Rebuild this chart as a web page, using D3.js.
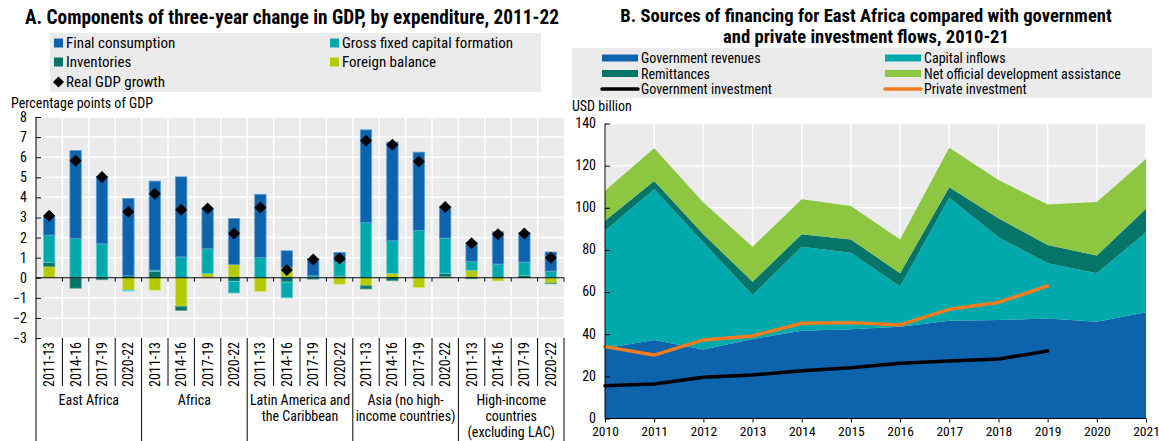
<!DOCTYPE html>
<html>
<head>
<meta charset="utf-8">
<script src="https://cdn.jsdelivr.net/npm/d3@7"></script>
<style>
  html, body { margin: 0; padding: 0; background: #fff; }
  svg { display: block; }
  text { font-family: "Liberation Sans Narrow", "Arial Narrow", "Roboto Condensed", sans-serif; fill: #000; }
</style>
</head>
<body>
<svg id="chart" width="1159" height="441"></svg>
<script>
// ---------- Panel A: components of three-year GDP change ----------
const groups = ["East Africa", "Africa", "Latin America and|the Caribbean",
                "Asia (no high-|income countries)", "High-income|countries|(excluding LAC)"];
const periods = ["2011-13", "2014-16", "2017-19", "2020-22"];

// one value per bar, in group order (4 periods per group)
const finalConsumption = [0.93, 4.38, 3.35, 3.85,  4.43, 3.98, 2.03, 2.29,  3.15, 0.84, 0.86, 0.50,  4.62, 4.91, 3.90, 1.58,  0.95, 1.61, 1.47, 0.95];
const grossFixedCapital = [1.36, 1.95, 1.66, -0.04, 0.06, 1.04, 1.24, -0.58, 1.00, -0.78, 0.10, 0.68, 2.74, 1.62, 2.35, 1.75, 0.45, 0.68, 0.66, 0.33];
const inventories       = [0.20, -0.52, -0.10, 0.10, 0.32, -0.20, 0.00, -0.18, 0.00, -0.22, -0.07, 0.08, -0.16, -0.15, 0.00, 0.17, -0.05, 0.00, 0.12, -0.03];
const foreignBalance    = [0.56, 0.00, 0.03, -0.62, -0.62, -1.43, 0.20, 0.66, -0.68, 0.50, 0.00, -0.32, -0.40, 0.22, -0.48, 0.05, 0.36, -0.16, 0.00, -0.27];
const realGdpGrowth     = [3.08, 5.82, 5.01, 3.28, 4.18, 3.38, 3.45, 2.20, 3.50, 0.38, 0.91, 0.96, 6.82, 6.62, 5.79, 3.52, 1.71, 2.17, 2.20, 1.00];
const yTicksA = [-3, -2, -1, 0, 1, 2, 3, 4, 5, 6, 7, 8];

// ---------- Panel B: financing sources for East Africa ----------
const years = [2010, 2011, 2012, 2013, 2014, 2015, 2016, 2017, 2018, 2019, 2020, 2021];
const governmentRevenues = [33.3, 37.3, 32.8, 37.7, 41.7, 42.3, 43.6, 46.4, 46.7, 47.5, 45.9, 50.4];
const capitalInflows     = [55.8, 71.5, 50.7, 20.9, 39.8, 36.4, 19.0, 58.4, 39.3, 26.2, 23.0, 38.0];
const remittances        = [4.8, 3.9, 4.0, 6.3, 5.9, 6.3, 6.3, 4.9, 9.0, 8.6, 8.4, 11.2];
const netOda             = [14.2, 15.5, 15.0, 16.6, 16.6, 15.8, 16.1, 18.8, 18.2, 19.3, 25.4, 23.6];
const privateInvestment    = [34.1, 30.1, 37.3, 39.2, 45.2, 45.5, 44.4, 51.8, 55.1, 62.9];
const governmentInvestment = [15.6, 16.4, 19.6, 20.6, 22.7, 24.1, 26.2, 27.3, 28.2, 32.0];
const yTicksB = [0, 20, 40, 60, 80, 100, 120, 140];

const C = {
  blue: "#0e63ad", cyan: "#00a9ac", dteal: "#05756a", lime: "#b5cb04",
  green: "#8dc641", orange: "#f47b20", bg: "#ebebeb"
};

const svg = d3.select("#chart");

// ================= Panel A =================
const A = { x0: 36, x1: 564, yTop: 117, yBot: 338 };
const barKeys = groups.flatMap((g, gi) => periods.map(p => gi + "|" + p));
const rows = barKeys.map((k, i) => ({
  key: k, period: k.split("|")[1],
  fb: foreignBalance[i], inv: inventories[i], gfcf: grossFixedCapital[i], fc: finalConsumption[i],
  gdp: realGdpGrowth[i]
}));
const compKeys = ["fb", "inv", "gfcf", "fc"];
const compColor = { fb: C.lime, inv: C.dteal, gfcf: C.cyan, fc: C.blue };
const compStroke = { fb: "#d3e26a", inv: "#5aa39b", gfcf: "#66cfd1", fc: "#5b9bd3" };

const xA = d3.scaleBand().domain(barKeys).range([A.x0, A.x1]).padding(0);
const yA = d3.scaleLinear().domain([-3, 8]).range([A.yBot, A.yTop]);
const gA = svg.append("g");

gA.append("text").attr("x", 292).attr("y", 24).attr("text-anchor", "middle")
  .attr("font-size", 19.3).attr("font-weight", "bold")
  .text("A. Components of three-year change in GDP, by expenditure, 2011-22");

// legend
gA.append("rect").attr("x", 50).attr("y", 33).attr("width", 491).attr("height", 59).attr("fill", C.bg);
const legA = [
  { t: "Final consumption", c: C.blue, x: 54, y: 43 },
  { t: "Gross fixed capital formation", c: C.cyan, x: 330, y: 43 },
  { t: "Inventories", c: C.dteal, x: 54, y: 62 },
  { t: "Foreign balance", c: C.lime, x: 330, y: 62 },
  { t: "Real GDP growth", c: null, x: 54, y: 82 }
];
legA.forEach(d => {
  if (d.c) {
    gA.append("rect").attr("x", d.x).attr("y", d.y - 4.5).attr("width", 9).attr("height", 9).attr("fill", d.c);
  } else {
    gA.append("path").attr("transform", `translate(${d.x + 4.5},${d.y})`)
      .attr("d", "M0,-5.5L5.5,0L0,5.5L-5.5,0Z").attr("fill", "#000");
  }
  gA.append("text").attr("x", d.x + 12).attr("y", d.y + 5).attr("font-size", 15).text(d.t);
});

gA.append("text").attr("x", 11).attr("y", 108).attr("font-size", 14).text("Percentage points of GDP");

// plot background and grid
gA.append("rect").attr("x", A.x0).attr("y", A.yTop).attr("width", A.x1 - A.x0).attr("height", A.yBot - A.yTop).attr("fill", C.bg);
gA.append("g").selectAll("line").data(yTicksA).join("line")
  .attr("x1", A.x0).attr("x2", A.x1).attr("y1", d => yA(d)).attr("y2", d => yA(d))
  .attr("stroke", "#fff").attr("stroke-width", 1.5);
gA.append("g").selectAll("line").data(barKeys.slice(1)).join("line")
  .attr("x1", d => xA(d)).attr("x2", d => xA(d)).attr("y1", A.yTop).attr("y2", A.yBot)
  .attr("stroke", "#fff").attr("stroke-width", 1.5);

// stacked bars (diverging around zero)
const stack = d3.stack().keys(compKeys).offset(d3.stackOffsetDiverging);
const series = stack(rows);
const bw = xA.bandwidth() * 0.43;
gA.append("g").selectAll("g").data(series).join("g")
  .attr("fill", s => compColor[s.key]).attr("stroke", s => compStroke[s.key]).attr("stroke-width", 0.8)
  .selectAll("rect").data(s => s.filter(d => d[1] - d[0] !== 0)).join("rect")
  .attr("x", d => xA(d.data.key) + (xA.bandwidth() - bw) / 2)
  .attr("width", bw)
  .attr("y", d => yA(Math.max(d[0], d[1])))
  .attr("height", d => Math.abs(yA(d[0]) - yA(d[1])));

// zero line with ticks
gA.append("line").attr("x1", A.x0).attr("x2", A.x1).attr("y1", yA(0)).attr("y2", yA(0)).attr("stroke", "#000").attr("stroke-width", 1.2);
gA.append("g").selectAll("line").data(barKeys.slice(1).concat(["end"])).join("line")
  .attr("x1", d => d === "end" ? A.x1 : xA(d)).attr("x2", d => d === "end" ? A.x1 : xA(d))
  .attr("y1", yA(0)).attr("y2", yA(0) + 4).attr("stroke", "#000").attr("stroke-width", 1);

// GDP diamonds
gA.append("g").selectAll("path").data(rows).join("path")
  .attr("transform", d => `translate(${xA(d.key) + xA.bandwidth() / 2},${yA(d.gdp)})`)
  .attr("d", "M0,-6L6,0L0,6L-6,0Z").attr("fill", "#000");

// y axis
const yAxisA = d3.axisLeft(yA).tickValues(yTicksA).tickSize(-5).tickPadding(9).tickFormat(d3.format("d"));
const yAxA = gA.append("g").attr("transform", `translate(${A.x0},0)`).call(yAxisA);
yAxA.select(".domain").remove();
yAxA.selectAll("line").attr("stroke", "#000");
yAxA.selectAll("text").attr("font-size", 14).attr("font-family", null);
gA.append("line").attr("x1", A.x0).attr("x2", A.x0).attr("y1", A.yTop).attr("y2", 441).attr("stroke", "#000").attr("stroke-width", 1);

// category labels and separators
gA.append("g").selectAll("line").data(barKeys.slice(1).concat(["end"])).join("line")
  .attr("x1", d => d === "end" ? A.x1 : xA(d)).attr("x2", d => d === "end" ? A.x1 : xA(d))
  .attr("y1", A.yBot)
  .attr("y2", (d, i) => (d === "end" || (i + 1) % 4 === 0) ? 441 : 386)
  .attr("stroke", "#000").attr("stroke-width", 1);
gA.append("g").selectAll("text").data(rows).join("text")
  .attr("transform", d => `translate(${xA(d.key) + xA.bandwidth() / 2 + 5},342) rotate(-90)`)
  .attr("text-anchor", "end").attr("font-size", 14).text(d => d.period);
const groupW = (A.x1 - A.x0) / groups.length;
groups.forEach((g, gi) => {
  const lines = g.split("|");
  const t = gA.append("text").attr("x", A.x0 + groupW * (gi + 0.5)).attr("text-anchor", "middle").attr("font-size", 14);
  lines.forEach((l, li) => t.append("tspan").attr("x", A.x0 + groupW * (gi + 0.5)).attr("y", 405 + li * 16).text(l));
});

// ================= Panel B =================
const B = { x0: 605, x1: 1146, yTop: 123.5, yBot: 418.5 };
const xB = d3.scaleLinear().domain([2010, 2021]).range([B.x0, B.x1]);
const yB = d3.scaleLinear().domain([0, 140]).range([B.yBot, B.yTop]);
const gB = svg.append("g");

const tB = gB.append("text").attr("text-anchor", "middle").attr("font-size", 18.6).attr("font-weight", "bold");
tB.append("tspan").attr("x", 866).attr("y", 22).text("B. Sources of financing for East Africa compared with government");
tB.append("tspan").attr("x", 866).attr("y", 43).text("and private investment flows, 2010-21");

gB.append("rect").attr("x", 572).attr("y", 48).attr("width", 580).attr("height", 50).attr("fill", C.bg);
const legB = [
  { t: "Government revenues", c: C.blue, type: "area", x: 602, y: 58 },
  { t: "Capital inflows", c: C.cyan, type: "area", x: 885, y: 58 },
  { t: "Remittances", c: C.dteal, type: "area", x: 602, y: 73.5 },
  { t: "Net official development assistance", c: C.green, type: "area", x: 885, y: 73.5 },
  { t: "Government investment", c: "#000", type: "line", x: 602, y: 89 },
  { t: "Private investment", c: C.orange, type: "line", x: 885, y: 89 }
];
legB.forEach(d => {
  if (d.type === "area") {
    gB.append("rect").attr("x", d.x).attr("y", d.y - 3.5).attr("width", 36).attr("height", 7).attr("fill", d.c);
  } else {
    gB.append("line").attr("x1", d.x).attr("x2", d.x + 36).attr("y1", d.y).attr("y2", d.y)
      .attr("stroke", d.c).attr("stroke-width", 3.5).attr("stroke-linecap", "round");
  }
  gB.append("text").attr("x", d.x + 39).attr("y", d.y + 5).attr("font-size", 14).text(d.t);
});

gB.append("text").attr("x", 572).attr("y", 111).attr("font-size", 14).text("USD billion");

gB.append("rect").attr("x", B.x0).attr("y", B.yTop).attr("width", B.x1 - B.x0).attr("height", B.yBot - B.yTop).attr("fill", C.bg);
gB.append("g").selectAll("line").data(yTicksB).join("line")
  .attr("x1", B.x0).attr("x2", B.x1).attr("y1", d => yB(d)).attr("y2", d => yB(d))
  .attr("stroke", "#fff").attr("stroke-width", 1.5);
gB.append("g").selectAll("line").data(years).join("line")
  .attr("x1", d => xB(d)).attr("x2", d => xB(d)).attr("y1", B.yTop).attr("y2", B.yBot)
  .attr("stroke", "#fff").attr("stroke-width", 1.5);

const flowRows = years.map((y, i) => ({
  year: y, rev: governmentRevenues[i], cap: capitalInflows[i], rem: remittances[i], oda: netOda[i]
}));
const flowKeys = ["rev", "cap", "rem", "oda"];
const flowColor = { rev: C.blue, cap: C.cyan, rem: C.dteal, oda: C.green };
const areaStack = d3.stack().keys(flowKeys)(flowRows);
const area = d3.area().x(d => xB(d.data.year)).y0(d => yB(d[0])).y1(d => yB(d[1]));
gB.append("g").selectAll("path").data(areaStack).join("path")
  .attr("fill", s => flowColor[s.key]).attr("d", area);

const line = d3.line().x((d, i) => xB(years[i])).y(d => yB(d));
gB.append("path").attr("d", line(governmentInvestment)).attr("fill", "none")
  .attr("stroke", "#000").attr("stroke-width", 3.5).attr("stroke-linecap", "round").attr("stroke-linejoin", "round");
gB.append("path").attr("d", line(privateInvestment)).attr("fill", "none")
  .attr("stroke", C.orange).attr("stroke-width", 3.5).attr("stroke-linecap", "round").attr("stroke-linejoin", "round");

const yAxB = gB.append("g").attr("transform", `translate(${B.x0},0)`)
  .call(d3.axisLeft(yB).tickValues(yTicksB).tickSize(-5).tickPadding(9));
yAxB.selectAll("line").attr("stroke", "#000");
yAxB.select(".domain").attr("stroke", "#000").attr("d", `M0,${B.yTop}V${B.yBot}`);
yAxB.selectAll("text").attr("font-size", 14).attr("font-family", null).attr("dy", "0.28em");

const xAxB = gB.append("g").attr("transform", `translate(0,${B.yBot})`)
  .call(d3.axisBottom(xB).tickValues(years).tickSize(4).tickPadding(4).tickFormat(d3.format("d")));
xAxB.selectAll("line").attr("stroke", "#000");
xAxB.select(".domain").attr("stroke", "#000").attr("d", `M${B.x0},0H${B.x1}`);
xAxB.selectAll("text").attr("font-size", 13.5).attr("font-family", null);
</script>
</body>
</html>
